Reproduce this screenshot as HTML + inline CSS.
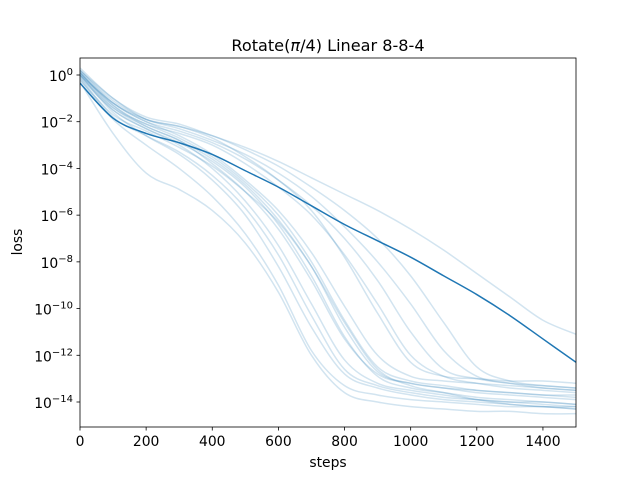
<!DOCTYPE html>
<html><head><meta charset="utf-8"><style>
body{margin:0;background:#fff}
svg{display:block;font-family:"DejaVu Sans","Liberation Sans",sans-serif}
</style></head><body>
<svg id="chart" width="640" height="480" viewBox="0 0 640 480">
<rect width="640" height="480" fill="#fff"/>
<text x="328" y="51" text-anchor="middle" font-size="16.1">Rotate(<tspan font-style="italic">π</tspan>/4) Linear 8-8-4</text>
<g id="lines"></g>
<g id="axes"></g>
<text x="328" y="467" text-anchor="middle" font-size="13.9">steps</text>
<text transform="translate(22,242) rotate(-90)" text-anchor="middle" font-size="13.9">loss</text>
</svg>
<script>
const steps = [0,100,200,300,400,500,600,700,800,900,1000,1100,1200,1300,1400,1500];
const meanLoss = [-0.35,-1.85,-2.5,-2.9,-3.4,-4.1,-4.8,-5.6,-6.4,-7.1,-7.8,-8.6,-9.4,-10.3,-11.3,-12.3];
const runs = [
[-0.3,-2.5,-4.2,-4.9,-5.8,-7.2,-9.3,-12.0,-13.6,-14.0,-14.2,-14.3,-14.4,-14.4,-14.5,-14.5],
[-0.2,-1.9,-3.0,-4.0,-5.2,-6.8,-9.0,-11.8,-13.3,-13.7,-13.9,-14.0,-14.1,-14.2,-14.2,-14.3],
[0,-1.6,-2.6,-3.4,-4.5,-6.0,-8.2,-10.8,-12.8,-13.4,-13.7,-13.9,-14.0,-14.1,-14.2,-14.2],
[-0.1,-1.5,-2.3,-3.0,-4.0,-5.4,-7.3,-9.8,-12.2,-13.2,-13.5,-13.7,-13.9,-14.0,-14.0,-14.1],
[0.1,-1.3,-2.2,-2.8,-3.8,-5.0,-6.6,-8.8,-11.3,-12.8,-13.2,-13.4,-13.6,-13.7,-13.8,-13.9],
[0,-1.4,-2.1,-2.7,-3.5,-4.6,-6.0,-8.0,-10.5,-12.5,-13.1,-13.3,-13.5,-13.6,-13.7,-13.8],
[0.2,-1.2,-2.0,-2.6,-3.4,-4.5,-5.8,-7.6,-9.9,-12.0,-12.9,-13.1,-13.2,-13.3,-13.4,-13.5],
[-0.2,-1.7,-2.4,-3.1,-3.9,-5.0,-6.3,-8.2,-10.6,-12.6,-13.3,-13.6,-13.9,-14.1,-14.2,-14.3],
[0.1,-1.3,-2.1,-2.5,-3.0,-3.8,-4.8,-6.0,-7.7,-9.8,-12.0,-12.9,-13.2,-13.4,-13.5,-13.6],
[0,-1.2,-2.0,-2.4,-2.9,-3.6,-4.5,-5.6,-7.0,-8.8,-11.0,-12.6,-13.0,-13.2,-13.3,-13.4],
[0.2,-1.1,-1.9,-2.3,-2.8,-3.4,-4.2,-5.2,-6.5,-8.0,-9.8,-11.8,-12.9,-13.2,-13.4,-13.5],
[0.1,-1.2,-1.9,-2.2,-2.6,-3.2,-3.9,-4.8,-5.8,-7.0,-8.6,-10.6,-12.5,-13.1,-13.3,-13.4],
[0.3,-1.0,-1.8,-2.1,-2.6,-3.1,-3.7,-4.4,-5.1,-5.8,-6.6,-7.5,-8.5,-9.5,-10.5,-11.1],
[0.2,-1.0,-1.9,-2.2,-2.7,-3.5,-4.5,-5.8,-7.8,-10.2,-12.3,-12.9,-13.0,-13.1,-13.1,-13.2],
[0,-1.5,-2.3,-2.9,-3.7,-4.8,-6.4,-8.6,-11.2,-12.9,-13.4,-13.6,-13.8,-13.9,-14.0,-14.1],
[-0.1,-1.8,-2.6,-3.3,-4.3,-5.7,-7.7,-10.3,-12.6,-13.3,-13.6,-13.8,-13.9,-14.0,-14.1,-14.2],
[0.1,-1.4,-2.2,-2.8,-3.6,-4.7,-6.2,-8.2,-10.8,-12.7,-13.2,-13.4,-13.5,-13.6,-13.7,-13.7]
];
const xTicks = [0,200,400,600,800,1000,1200,1400];
const yTicks = [0,-2,-4,-6,-8,-10,-12,-14];

const L=80,R=576,T=58,B=427;
const X = s => L + (s/1500)*(R-L);
const Y = lg => 75 - (lg - 0)*(402-75)/14;
const NS="http://www.w3.org/2000/svg";
function pathFor(vals){
  const p = vals.map((v,i)=>[X(steps[i]),Y(v)]);
  let d = `M${p[0][0]},${p[0][1]}`;
  for(let i=0;i<p.length-1;i++){
    const p0=p[Math.max(0,i-1)],p1=p[i],p2=p[i+1],p3=p[Math.min(p.length-1,i+2)];
    const c1=[p1[0]+(p2[0]-p0[0])/6,p1[1]+(p2[1]-p0[1])/6];
    const c2=[p2[0]-(p3[0]-p1[0])/6,p2[1]-(p3[1]-p1[1])/6];
    d+=` C${c1[0]},${c1[1]} ${c2[0]},${c2[1]} ${p2[0]},${p2[1]}`;
  }
  return d;
}
const lines=document.getElementById('lines');
const clip=document.createElementNS(NS,'clipPath');clip.id='cp';
const cr=document.createElementNS(NS,'rect');cr.setAttribute('x',L);cr.setAttribute('y',T);cr.setAttribute('width',R-L);cr.setAttribute('height',B-T);
clip.appendChild(cr);lines.appendChild(clip);
lines.setAttribute('clip-path','url(#cp)');
runs.forEach((r,i)=>{
  const el=document.createElementNS(NS,'path');
  el.setAttribute('d',pathFor(r));
  el.setAttribute('fill','none');el.setAttribute('stroke','#1f77b4');
  el.setAttribute('stroke-opacity','0.2');el.setAttribute('stroke-width','1.5');
  
  
  lines.appendChild(el);
});
const m=document.createElementNS(NS,'path');
m.setAttribute('d',pathFor(meanLoss));
m.setAttribute('fill','none');m.setAttribute('stroke','#1f77b4');m.setAttribute('stroke-width','1.5');


lines.appendChild(m);

const ax=document.getElementById('axes');
const fr=document.createElementNS(NS,'rect');
fr.setAttribute('x',L);fr.setAttribute('y',T);fr.setAttribute('width',R-L);fr.setAttribute('height',B-T);
fr.setAttribute('fill','none');fr.setAttribute('stroke','#000');fr.setAttribute('stroke-width','0.8');


ax.appendChild(fr);
xTicks.forEach(t=>{
  const x=X(t);
  const tk=document.createElementNS(NS,'line');
  tk.setAttribute('x1',x);tk.setAttribute('x2',x);tk.setAttribute('y1',B);tk.setAttribute('y2',B+3.5);
  tk.setAttribute('stroke','#000');tk.setAttribute('stroke-width','0.8');
  
  
  ax.appendChild(tk);
  const tx=document.createElementNS(NS,'text');
  tx.setAttribute('x',x);tx.setAttribute('y',B+19);tx.setAttribute('text-anchor','middle');tx.setAttribute('font-size','13.9');
  tx.textContent=t;
  
  
  ax.appendChild(tx);
});
yTicks.forEach(t=>{
  const y=Y(t);
  const tk=document.createElementNS(NS,'line');
  tk.setAttribute('x1',L-3.5);tk.setAttribute('x2',L);tk.setAttribute('y1',y);tk.setAttribute('y2',y);
  tk.setAttribute('stroke','#000');tk.setAttribute('stroke-width','0.8');
  
  
  ax.appendChild(tk);
  const tx=document.createElementNS(NS,'text');
  tx.setAttribute('x',L-7);tx.setAttribute('y',y+6);tx.setAttribute('text-anchor','end');tx.setAttribute('font-size','13.9');
  const sup=String(t).replace('-','\u2212');
  tx.innerHTML='10<tspan dy="-6" font-size="10">'+sup+'</tspan>';
  
  
  ax.appendChild(tx);
});
</script>
</body></html>
